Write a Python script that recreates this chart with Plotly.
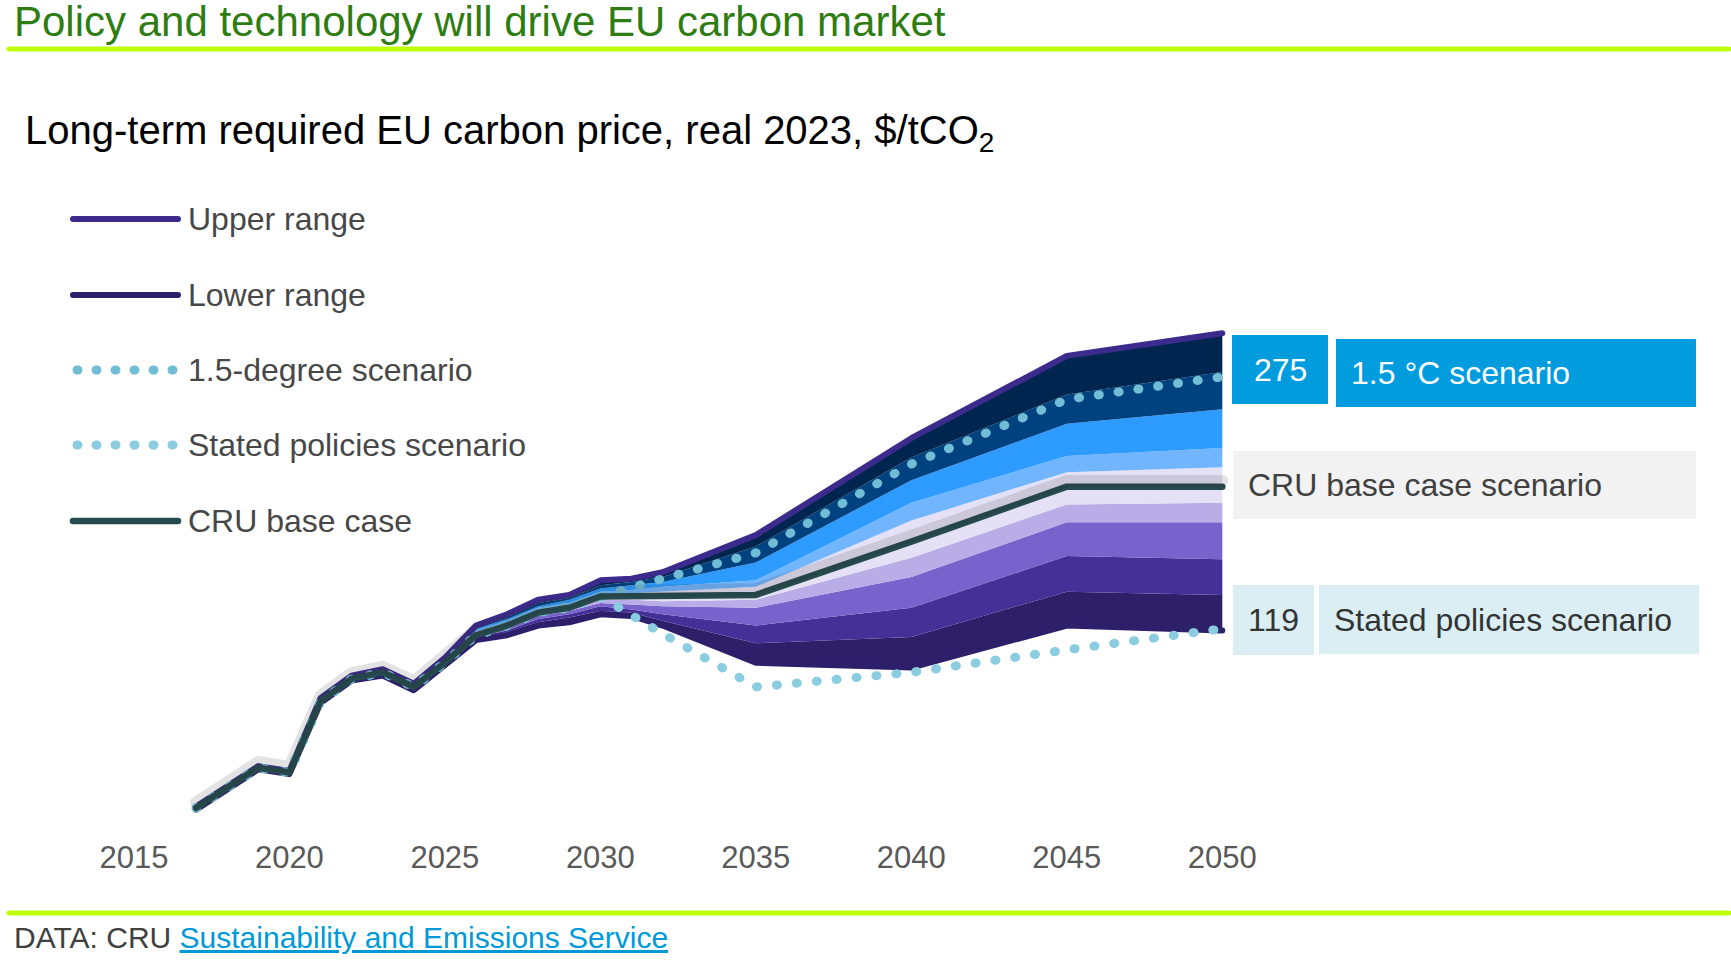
import plotly.graph_objects as go

# page geometry (px)
W, H = 1731, 965
ML, MR, MT, MB = 72, 495, 304, 144
PW, PH = W - ML - MR, H - MT - MB

FONT = "Liberation Sans, Arial, sans-serif"
LIME = "#c0ff00"
GREEN = "#2e7d12"
CYAN_BOX = "#009cde"
PALE_BOX = "#daeef3"
GREY_BOX = "#f2f2f2"

# ---- data, $/tCO2 real 2023 ----
years = [2017, 2018, 2019, 2020, 2021, 2022, 2023, 2024, 2025, 2026,
         2027, 2028, 2029, 2030, 2031, 2032, 2035, 2040, 2045, 2050]

base_case = [8, 21, 33, 30, 74, 88, 92, 83, 98, 115,
             121, 129, 132, 139, 139, 139, 140, 173, 207, 207]
upper_range = [9, 22, 34, 31, 76, 90, 94, 85, 101, 121,
               128, 137, 140, 149, 150, 154, 177, 237, 288, 302]
lower_range = [7, 20, 32, 29, 73, 87, 90, 81, 96, 112,
               115, 121, 123, 128, 127, 121, 98, 95, 121, 118]
scenario_15 = [8, 21, 33, 30, 74, 88, 92, 83, 98, 115,
               121, 129, 133, 139, 145, 150, 166, 221, 261, 275]
stated_policies = [8, 21, 33, 30, 74, 88, 92, 83, 98, 115,
                   121, 129, 132, 139, 127, 116, 83, 92, 106, 119]

# inner edges of the fan, from the top down
edge_navy = [9, 22, 34, 31, 75, 89, 93, 85, 100, 120,
             126, 135, 138, 146, 148, 151, 170, 225, 264, 278]
edge_dark_blue = [8, 21, 33, 31, 75, 89, 93, 84, 100, 119,
                  125, 133, 137, 144, 146, 148, 160, 211, 246, 255]
edge_blue = [8, 21, 33, 30, 75, 88, 92, 84, 99, 118,
             124, 132, 135, 142, 143, 145, 149, 197, 226, 231]
edge_light_blue = [8, 21, 33, 30, 74, 88, 92, 83, 99, 117,
                   123, 131, 134, 141, 141, 142, 145, 186, 216, 219]
edge_pale = [8, 21, 33, 30, 74, 88, 92, 83, 98, 115,
             120, 128, 131, 137, 137, 136, 137, 163, 196, 197]
edge_lavender = [8, 21, 33, 30, 74, 87, 91, 83, 97, 114,
                 119, 127, 130, 135, 134, 133, 132, 151, 185, 185]
edge_mid_purple = [8, 21, 32, 30, 73, 87, 91, 82, 97, 114,
                   118, 125, 128, 133, 131, 128, 121, 132, 164, 162]
edge_purple = [7, 20, 32, 29, 73, 87, 91, 82, 96, 113,
               117, 123, 126, 130, 129, 124, 110, 114, 142, 140]

tick_years = [2015, 2020, 2025, 2030, 2035, 2040, 2045, 2050]

legend_labels = ["Upper range", "Lower range", "1.5-degree scenario",
                 "Stated policies scenario", "CRU base case"]

# fan layers bottom -> top: (edge, fill colour of the layer under it)
fan = [
    (edge_purple, "#2e2068"),
    (edge_mid_purple, "#433198"),
    (edge_lavender, "#7862cc"),
    (edge_pale, "#b8ade6"),
    (edge_light_blue, "#e4e0f5"),
    (edge_blue, "#72b5ff"),
    (edge_dark_blue, "#2d9bff"),
    (edge_navy, "#00417f"),
    (upper_range, "#00264f"),
]

UPPER_C = "#3c2b8c"
LOWER_C = "#2d1f6a"
BASE_C = "#264a4d"
DOT15_C = "#72bdd6"
DOTSP_C = "#8acde0"


def px(x):
    return (x - ML) / PW


def py(y):
    return 1 - (y - MT) / PH


fig = go.Figure()

fig.add_trace(go.Scatter(x=years, y=lower_range, mode="lines",
                         line=dict(width=0), hoverinfo="skip"))
for edge, colour in fan:
    fig.add_trace(go.Scatter(x=years, y=edge, mode="lines", fill="tonexty",
                             fillcolor=colour, line=dict(width=0),
                             hoverinfo="skip"))

# soft shadow under the base case line (drawn on a shifted copy of the y axis)
fig.add_trace(go.Scatter(x=years, y=base_case, mode="lines", yaxis="y2",
                         line=dict(color="rgba(40,40,40,0.13)", width=12),
                         hoverinfo="skip"))

fig.add_trace(go.Scatter(x=years, y=upper_range, mode="lines", name="Upper range",
                         line=dict(color=UPPER_C, width=6)))
fig.add_trace(go.Scatter(x=years, y=lower_range, mode="lines", name="Lower range",
                         line=dict(color=LOWER_C, width=6)))
fig.add_trace(go.Scatter(x=years, y=stated_policies, mode="lines",
                         name="Stated policies scenario",
                         line=dict(color=DOTSP_C, width=9, dash="1px,19px")))
fig.add_trace(go.Scatter(x=years, y=scenario_15, mode="lines",
                         name="1.5-degree scenario",
                         line=dict(color=DOT15_C, width=9, dash="1px,19px")))
fig.add_trace(go.Scatter(x=years, y=base_case, mode="lines", name="CRU base case",
                         line=dict(color=BASE_C, width=6.5)))

shapes = []
annotations = []

# header / footer rules
for y in (49, 913):
    shapes.append(dict(type="line", xref="paper", yref="paper",
                       x0=px(9), x1=px(1729), y0=py(y), y1=py(y),
                       line=dict(color=LIME, width=5)))

annotations.append(dict(text="Policy and technology will drive EU carbon market",
                        x=px(12), y=py(21), xref="paper", yref="paper",
                        xanchor="left", yanchor="middle", showarrow=False,
                        font=dict(family=FONT, size=42, color=GREEN)))
annotations.append(dict(text="Long-term required EU carbon price, real 2023, $/tCO<sub>2</sub>",
                        x=px(23), y=py(133), xref="paper", yref="paper",
                        xanchor="left", yanchor="middle", showarrow=False,
                        font=dict(family=FONT, size=40, color="#000000")))
annotations.append(dict(text="DATA: CRU <span style='color:#0099d8'><u>Sustainability and Emissions Service</u></span>",
                        x=px(12), y=py(937), xref="paper", yref="paper",
                        xanchor="left", yanchor="middle", showarrow=False,
                        font=dict(family=FONT, size=30, color="#404040")))

# hand-made legend
legend_styles = [
    dict(color=UPPER_C, width=6),
    dict(color=LOWER_C, width=6),
    dict(color=DOT15_C, width=9, dash="1px,18px"),
    dict(color=DOTSP_C, width=9, dash="1px,18px"),
    dict(color=BASE_C, width=6.5),
]
legend_y = [219, 295, 370, 445, 521]
for label, style, ly in zip(legend_labels, legend_styles, legend_y):
    x0, x1 = (77, 175) if "dash" in style else (73, 178)
    shapes.append(dict(type="line", xref="paper", yref="paper",
                       x0=px(x0), x1=px(x1), y0=py(ly), y1=py(ly), line=style))
    annotations.append(dict(text=label, x=px(186), y=py(ly), xref="paper",
                            yref="paper", xanchor="left", yanchor="middle",
                            showarrow=False,
                            font=dict(family=FONT, size=32, color="#474747")))

# value / scenario boxes on the right
boxes = [
    (1232, 1328, 335, 404, CYAN_BOX, "275", "center", "#ffffff"),
    (1336, 1696, 339, 407, CYAN_BOX, "1.5 °C scenario", "left", "#ffffff"),
    (1233, 1696, 451, 519, GREY_BOX, "CRU base case scenario", "left", "#404040"),
    (1233, 1314, 585, 655, PALE_BOX, "119", "center", "#333333"),
    (1319, 1699, 585, 654, PALE_BOX, "Stated policies scenario", "left", "#333333"),
]
for x0, x1, y0, y1, colour, text, align, tcol in boxes:
    shapes.append(dict(type="rect", xref="paper", yref="paper",
                       x0=px(x0), x1=px(x1), y0=py(y1), y1=py(y0),
                       fillcolor=colour, line=dict(width=0), layer="below"))
    tx = (x0 + x1) / 2 if align == "center" else x0 + 13
    annotations.append(dict(text=text, x=px(tx), y=py((y0 + y1) / 2),
                            xref="paper", yref="paper",
                            xanchor="center" if align == "center" else "left",
                            yanchor="middle", showarrow=False,
                            font=dict(family=FONT, size=32, color=tcol)))

fig.update_layout(
    width=W, height=H,
    margin=dict(l=ML, r=MR, t=MT, b=MB, pad=0),
    paper_bgcolor="white", plot_bgcolor="white",
    showlegend=False,
    font=dict(family=FONT),
    xaxis=dict(range=[2013.01, 2050.44], tickvals=tick_years,
               ticks="outside", ticklen=9, tickcolor="rgba(0,0,0,0)",
               tickfont=dict(family=FONT, size=31, color="#595959"),
               showgrid=False, zeroline=False, showline=False, fixedrange=True),
    yaxis=dict(range=[0, 320.1], visible=False, fixedrange=True),
    yaxis2=dict(range=[-3.5, 316.6], overlaying="y", visible=False, fixedrange=True),
    shapes=shapes,
    annotations=annotations,
)

post = """
document.body.style.margin = '0';
var gd = document.getElementById('{plot_id}');
gd.querySelectorAll('.js-line, .shapelayer path').forEach(function (p) {
  p.style.strokeLinecap = 'round';
  p.style.strokeLinejoin = 'round';
});
"""

fig.write_html("out.html", post_script=post, config={"displayModeBar": False})
